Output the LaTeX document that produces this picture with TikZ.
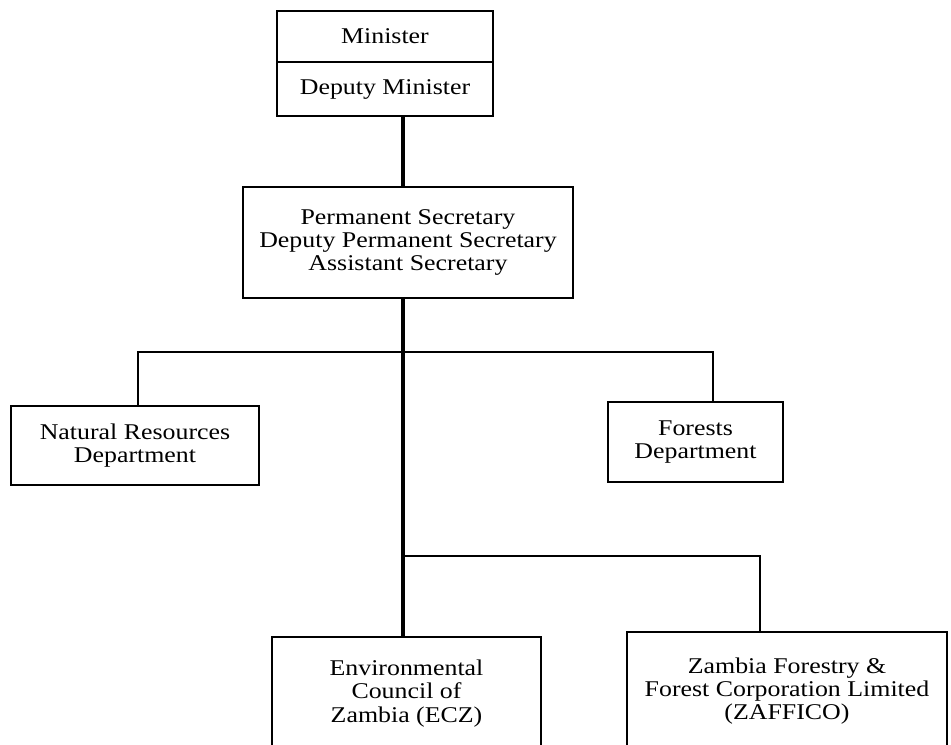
\documentclass[tikz,border=0pt]{standalone}
\usepackage{fontspec}
\setmainfont[FakeStretch=1.15]{Liberation Serif}
\usepackage{tikz}
\usetikzlibrary{calc,positioning}

\newcommand\orgfont{\fontsize{16}{16.5}\selectfont}
\tikzset{
  post/.style={draw, line width=1.4pt, inner sep=0pt, outer sep=0pt, align=center, font=\orgfont},
  link/.style={line width=1.4pt},
  trunk/.style={line width=2.6pt}
}

\begin{document}
\begin{tikzpicture}[x=0.025cm, y=-0.025cm]
  \useasboundingbox[fill=white] (0,0) rectangle (951,744);
  \clip (0,0) rectangle (951,744);

  \coordinate (spine) at (403,0);

  \node[post, minimum width=5.4cm, minimum height=1.275cm] (min) at (385,36.5) {Minister};
  \node[post, minimum width=5.4cm, minimum height=1.35cm, below=0pt of min] (dmin) {Deputy Minister};

  \node[post, minimum width=8.25cm, minimum height=2.775cm] (ps) at (408,242.5)
    {Permanent Secretary\\Deputy Permanent Secretary\\Assistant Secretary};

  \node[post, minimum width=6.2cm, minimum height=1.975cm] (nr) at (135,445.5)
    {Natural Resources\\Department};
  \node[post, minimum width=4.375cm, minimum height=2cm] (fd) at (695.5,442)
    {Forests\\Department};

  \node[post, minimum width=6.725cm, minimum height=2.825cm] (ecz) at (406.5,693.5)
    {Environmental\\Council of\\Zambia (ECZ)};
  \node[post, minimum width=8cm, minimum height=2.95cm] (zaf) at (787,691)
    {Zambia Forestry \&\\Forest Corporation Limited\\(ZAFFICO)};

  % main line
  \draw[trunk] (dmin.south -| spine) -- (ps.north -| spine);
  \draw[trunk] (ps.south -| spine) -- (ecz.north -| spine);

  % departments
  \coordinate (b1) at (403,352);
  \draw[link] ($(nr.north)+(3,0)$) |- (b1) -| ($(fd.north)+(17.5,0)$);

  % bodies
  \coordinate (b2) at (403,556);
  \draw[link] (b2) -| ($(zaf.north)+(-27,0)$);
\end{tikzpicture}
\end{document}
